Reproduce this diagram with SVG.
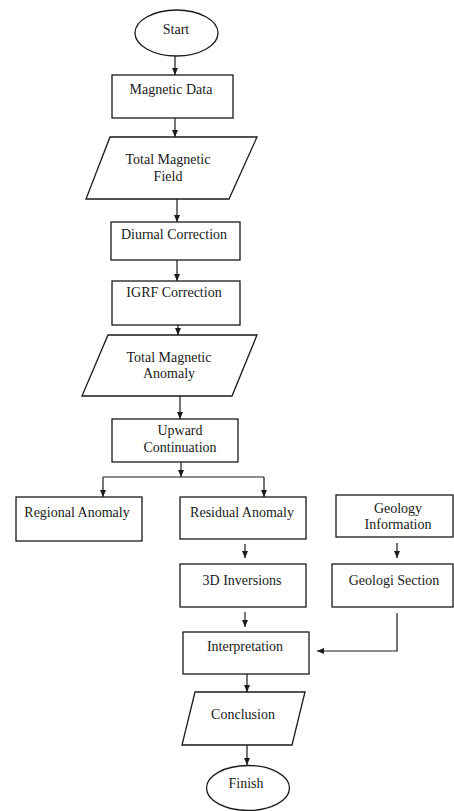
<svg xmlns="http://www.w3.org/2000/svg" width="454" height="811" viewBox="0 0 454 811">
<defs>
<style>
.s{fill:#fff;stroke:#1a1a1a;stroke-width:1.3}
.t{font-family:"Liberation Serif","Times New Roman",serif;font-size:14px;fill:#1a1a1a;text-anchor:middle}
.c{fill:none;stroke:#1a1a1a;stroke-width:1.2}
</style>
<marker id="ah" markerUnits="userSpaceOnUse" markerWidth="8" markerHeight="8" refX="7" refY="4" orient="auto">
<path d="M0,1 L7,4 L0,7 Z" fill="#1a1a1a"/>
</marker>
</defs>
<rect width="454" height="811" fill="#fff"/>
<g id="connectors">
<line class="c" x1="175" y1="56" x2="175" y2="75" marker-end="url(#ah)"/>
<line class="c" x1="175" y1="118" x2="175" y2="137" marker-end="url(#ah)"/>
<line class="c" x1="177" y1="199" x2="177" y2="222" marker-end="url(#ah)"/>
<line class="c" x1="177" y1="260" x2="177" y2="281" marker-end="url(#ah)"/>
<line class="c" x1="178" y1="325" x2="178" y2="335" marker-end="url(#ah)"/>
<line class="c" x1="180" y1="396" x2="180" y2="419" marker-end="url(#ah)"/>
<line class="c" x1="181" y1="462" x2="181" y2="477" marker-end="url(#ah)"/>
<line class="c" x1="103" y1="477" x2="264" y2="477"/>
<line class="c" x1="103" y1="477" x2="103" y2="497" marker-end="url(#ah)"/>
<line class="c" x1="264" y1="477" x2="264" y2="497" marker-end="url(#ah)"/>
<line class="c" x1="245" y1="544" x2="245" y2="558" stroke-width="2" marker-end="url(#ah)"/>
<line class="c" x1="397" y1="543" x2="397" y2="558" marker-end="url(#ah)"/>
<line class="c" x1="245" y1="612" x2="245" y2="627" marker-end="url(#ah)"/>
<polyline class="c" points="397,613 397,651 317,651" marker-end="url(#ah)"/>
<line class="c" x1="247" y1="674" x2="247" y2="692" marker-end="url(#ah)"/>
<line class="c" x1="247" y1="745" x2="247" y2="765" marker-end="url(#ah)"/>
</g>
<g id="start">
<ellipse class="s" cx="176.5" cy="33" rx="41.5" ry="23"/>
<text class="t" x="176" y="34">Start</text>
</g>
<g id="magnetic-data">
<rect class="s" x="112" y="75" width="121" height="43"/>
<text class="t" x="171" y="94">Magnetic Data</text>
</g>
<g id="total-magnetic-field">
<polygon class="s" points="110,137 257,137 229,199 86,199"/>
<text class="t" x="168" y="164">Total Magnetic</text>
<text class="t" x="168" y="181">Field</text>
</g>
<g id="diurnal-correction">
<rect class="s" x="111" y="222" width="129" height="38"/>
<text class="t" x="174" y="239">Diurnal Correction</text>
</g>
<g id="igrf-correction">
<rect class="s" x="112" y="281" width="128" height="44"/>
<text class="t" x="174" y="297">IGRF Correction</text>
</g>
<g id="total-magnetic-anomaly">
<polygon class="s" points="108,335 257,335 232,396 82,396"/>
<text class="t" x="169" y="362">Total Magnetic</text>
<text class="t" x="169" y="378">Anomaly</text>
</g>
<g id="upward-continuation">
<rect class="s" x="112" y="419" width="126" height="43"/>
<text class="t" x="180" y="435">Upward</text>
<text class="t" x="180" y="452">Continuation</text>
</g>
<g id="regional-anomaly">
<rect class="s" x="16" y="497" width="126" height="44"/>
<text class="t" x="77" y="517">Regional Anomaly</text>
</g>
<g id="residual-anomaly">
<rect class="s" x="180" y="497" width="126" height="42"/>
<text class="t" x="242" y="517">Residual Anomaly</text>
</g>
<g id="geology-information">
<rect class="s" x="336" y="495" width="117" height="42"/>
<text class="t" x="398" y="513">Geology</text>
<text class="t" x="398" y="529">Information</text>
</g>
<g id="inversions-3d">
<rect class="s" x="180" y="564" width="126" height="43"/>
<text class="t" x="242" y="585">3D Inversions</text>
</g>
<g id="geologi-section">
<rect class="s" x="332" y="564" width="121" height="43"/>
<text class="t" x="394" y="585">Geologi Section</text>
</g>
<g id="interpretation">
<rect class="s" x="183" y="632" width="126" height="42"/>
<text class="t" x="245" y="651">Interpretation</text>
</g>
<g id="conclusion">
<polygon class="s" points="195,692 305,692 292,745 182,745"/>
<text class="t" x="243" y="719">Conclusion</text>
</g>
<g id="finish">
<ellipse class="s" cx="248" cy="788" rx="41.5" ry="22.5"/>
<text class="t" x="246" y="788">Finish</text>
</g>
</svg>
